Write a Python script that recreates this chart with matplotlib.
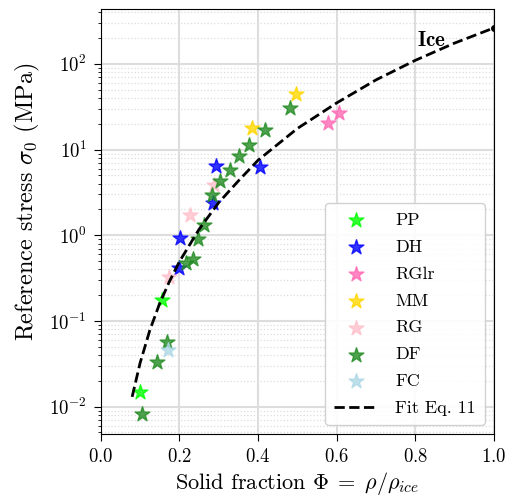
import numpy as np
import matplotlib
matplotlib.use("Agg")
import matplotlib.pyplot as plt

plt.rcParams['font.family'] = 'serif'
plt.rcParams['font.serif'] = ['cmr10']
plt.rcParams['mathtext.fontset'] = 'cm'
plt.rcParams['axes.formatter.use_mathtext'] = True

# solid fraction / reference stress (MPa), per grain type
pp_phi = [0.100, 0.155]
pp_sig = [0.0149, 0.176]
dh_phi = [0.200, 0.202, 0.285, 0.293, 0.404]
dh_sig = [0.42, 0.92, 2.4, 6.4, 6.2]
rglr_phi = [0.577, 0.607]
rglr_sig = [20.3, 27.0]
mm_phi = [0.386, 0.497]
mm_sig = [18.1, 44.6]
rg_phi = [0.175, 0.226, 0.288]
rg_sig = [0.33, 1.73, 3.9]
df_phi = [0.104, 0.144, 0.168, 0.218, 0.235, 0.248, 0.264, 0.284, 0.304,
          0.328, 0.351, 0.377, 0.417, 0.481]
df_sig = [0.0082, 0.0334, 0.057, 0.475, 0.525, 0.90, 1.33, 2.95, 4.25,
          5.85, 8.4, 11.4, 16.8, 30.4]
fc_phi = [0.170]
fc_sig = [0.0458]

# fit curve
fit_phi = [0.08, 0.10, 0.125, 0.15, 0.175, 0.20, 0.25, 0.30, 0.35, 0.40,
           0.50, 0.60, 0.70, 0.80, 0.90, 1.00]
fit_sig = [0.013, 0.032, 0.078, 0.16, 0.29, 0.49, 1.17, 2.4, 4.3, 7.5,
           17.6, 35.0, 65.0, 110.0, 175.0, 263.0]

groups = [
    ("PP", pp_phi, pp_sig, "lime"),
    ("DH", dh_phi, dh_sig, "blue"),
    ("RGlr", rglr_phi, rglr_sig, "hotpink"),
    ("MM", mm_phi, mm_sig, "gold"),
    ("RG", rg_phi, rg_sig, "pink"),
    ("DF", df_phi, df_sig, "forestgreen"),
    ("FC", fc_phi, fc_sig, "lightblue"),
]

fig = plt.figure(figsize=(5.15, 4.98), dpi=100)
ax = fig.add_axes([0.1955, 0.1285, 0.7635, 0.853])

for name, x, y, c in groups:
    ax.scatter(x, y, marker='*', s=125, color=c, alpha=0.8, label=name, zorder=3)

ax.plot(fit_phi, fit_sig, 'k--', lw=2, label='Fit Eq. 11', zorder=4)
ax.plot([1.0], [263.0], 'ko', ms=4, zorder=5)
ax.text(0.841, 190, r'$\mathbf{Ice}$', fontsize=15, ha='center', va='center')

ax.set_yscale('log')
ax.set_xlim(0, 1)
ax.set_ylim(0.00479, 435)
ax.grid(True, which='major', color='#dddddd', lw=1.5)
ax.yaxis.grid(True, which='minor', color='#dddddd', ls=':', lw=0.9)
ax.set_axisbelow(True)
ax.tick_params(which='major', labelsize=13.5, length=5, pad=5)
ax.tick_params(which='minor', length=2.5)

ax.set_xlabel(r'Solid fraction $\Phi\;=\;\rho/\rho_{ice}$', fontsize=16)
ax.set_ylabel(r'Reference stress $\sigma_0$ (MPa)', fontsize=17.5)
ax.xaxis.set_label_coords(0.5, -0.085)
ax.yaxis.set_label_coords(-0.15, 0.546)

leg = ax.legend(loc='lower right', fontsize=13, framealpha=0.9,
                handlelength=2.4, handletextpad=1.0, borderpad=0.5,
                labelspacing=0.62)

fig.savefig("out.png", dpi=100)
